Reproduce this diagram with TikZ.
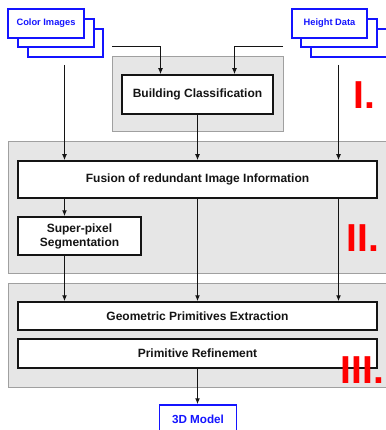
\documentclass[tikz,border=0pt]{standalone}
\usepackage{fontspec}
\setmainfont{Liberation Sans}
\usetikzlibrary{arrows.meta}
\definecolor{grpfill}{RGB}{230,230,230}
\definecolor{grpline}{RGB}{160,160,160}
\definecolor{blu}{RGB}{20,20,255}
\definecolor{ink}{RGB}{20,20,20}
\begin{document}
\begin{tikzpicture}[x=1pt,y=-1pt,
  grp/.style={draw=grpline, fill=grpfill, line width=1pt, inner sep=0pt},
  blk/.style={draw=ink, fill=white, line width=1.5pt, inner sep=0pt, align=center,
    font=\fontsize{12}{14}\selectfont\bfseries, text=ink},
  bluebox/.style={draw=blu, fill=white, line width=1.5pt, inner sep=0pt,
    font=\fontsize{9.3}{11}\selectfont\bfseries, text=blu},
  arr/.style={draw=ink, line width=1.5pt, -{Latex[length=6pt,width=5pt]}},
  roman/.style={text=red, font=\fontsize{39}{39}\selectfont\bfseries, inner sep=0pt, anchor=base west}]
\useasboundingbox (0,0) rectangle (385,430);
% groups
\node[grp, minimum width=171, minimum height=75] (g1) at (197.5,94.5) {};
\node[grp, minimum width=378, minimum height=131] (g2) at (197,207.5) {};
\node[grp, minimum width=378, minimum height=104] (g3) at (197,335) {};
% colour images stack
\node[bluebox, minimum width=75, minimum height=28] (ci3) at (65.5,43) {};
\node[bluebox, minimum width=76, minimum height=28] (ci2) at (56,33) {};
\node[bluebox, minimum width=76, minimum height=29] (ci1) at (46,23.5) {Color Images};
% height data stack
\node[bluebox, minimum width=76, minimum height=28] (hd3) at (349,43) {};
\node[bluebox, minimum width=76, minimum height=28] (hd2) at (339,33) {};
\node[bluebox, minimum width=75, minimum height=29] (hd1) at (329.5,23.5) {Height Data};
% process boxes
\node[blk, minimum width=151, minimum height=39] (bc) at (197.5,94.5) {Building Classification};
\node[blk, minimum width=359, minimum height=37] (fus) at (197.5,179.5) {Fusion of redundant Image Information};
\node[blk, minimum width=123, minimum height=38] (sp) at (79.5,236) {Super-pixel\\Segmentation};
\node[blk, minimum width=359, minimum height=28] (geo) at (197.5,316) {Geometric Primitives Extraction};
\node[blk, minimum width=359, minimum height=29] (ref) at (197.5,353.5) {Primitive Refinement};
\node[bluebox, font=\fontsize{11.7}{13}\selectfont\bfseries, minimum width=77, minimum height=29] (m3d) at (198,419.5) {3D Model};
% roman numerals
\node[roman] (n1) at (353.5,109) {I.};
\node[roman] (n2) at (346.5,251) {II.};
\node[roman] (n3) at (340.5,383) {III.};
% connectors
\coordinate (ciS) at (64.5,65);
\coordinate (hdS) at (338.5,65);
\coordinate (l1) at (112,46.5);
\coordinate (l1b) at (160.5,46.5);
\coordinate (r1) at (283,46.5);
\coordinate (r1b) at (234.5,46.5);
\draw[arr] (l1) -- (l1b) -- (l1b |- bc.north);
\draw[arr] (r1) -- (r1b) -- (r1b |- bc.north);
\draw[arr] (ciS) -- (ciS |- fus.north);
\draw[arr] (hdS) -- (hdS |- fus.north);
\draw[arr] (bc.south) -- (bc.south |- fus.north);
\draw[arr] (fus.south -| ciS) -- (sp.north -| ciS);
\draw[arr] (sp.south -| ciS) -- (geo.north -| ciS);
\draw[arr] (fus.south) -- (geo.north);
\draw[arr] (fus.south -| hdS) -- (geo.north -| hdS);
\draw[arr] (ref.south) -- (ref.south |- m3d.north);
\end{tikzpicture}
\end{document}
